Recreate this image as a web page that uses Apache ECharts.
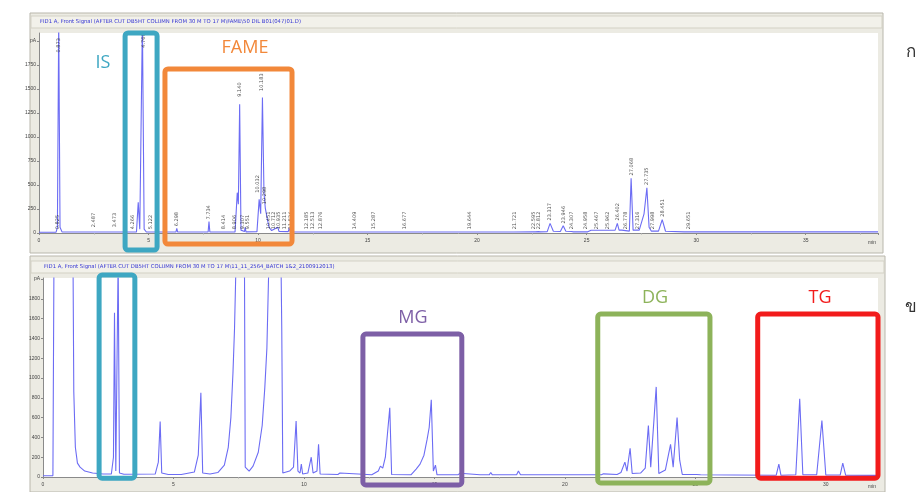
<!DOCTYPE html>
<html>
<head>
<meta charset="utf-8">
<script src="https://cdn.jsdelivr.net/npm/echarts@6/dist/echarts.min.js"></script>
<style>html,body{margin:0;padding:0;background:#fff}#c{width:920px;height:492px}</style>
</head>
<body>
<div id="c"></div>
<script>
// ---- Data ----
// top chromatogram (FAME sample): [time min, signal pA]
var topTrace = [
  [0,8],[0.78,9],[0.84,60],[0.9,2200],[0.96,60],[1.05,12],[2.48,10],[2.5,18],[2.52,10],
  [3.46,10],[3.48,16],[3.5,10],[4.45,10],[4.53,320],[4.6,40],[4.66,60],[4.72,2200],[4.8,40],[4.9,10],
  [5.1,10],[5.12,20],[5.14,10],[6.25,10],[6.29,48],[6.33,10],[7.72,10],[7.76,118],[7.8,10],
  [8.4,10],[8.42,22],[8.44,10],[8.95,12],[9.05,420],[9.1,300],[9.16,1340],[9.22,30],[9.3,12],
  [9.38,15],[9.41,60],[9.45,12],[9.95,14],[10.05,350],[10.12,200],[10.2,1410],[10.27,420],
  [10.33,260],[10.42,150],[10.5,60],[10.62,25],[10.9,60],[10.96,15],[11.38,14],[11.42,50],[11.47,12],
  [12.2,10],[12.22,18],[12.25,10],[21.68,10],[21.72,22],[21.76,10],[22.55,12],[22.6,30],[22.65,12],
  [22.8,14],[22.85,32],[22.9,12],[23.2,14],[23.33,100],[23.48,18],[23.8,16],[23.93,75],[24.05,18],
  [24.3,16],[24.34,24],[24.4,12],[24.9,12],[24.96,30],[25.05,12],[25.2,28],[26.3,30],[26.4,100],
  [26.48,30],[26.6,30],[26.65,12],[26.95,20],[27.03,570],[27.12,30],[27.4,30],[27.62,200],
  [27.75,470],[27.85,60],[27.95,20],[28.28,20],[28.45,140],[28.6,18],[29.45,12],[29.5,26],
  [29.55,12],[38.3,12]
];
// bottom chromatogram (biodiesel sample): [time min, signal pA]
var bottomTrace = [
  [0,12],[0.38,14],[0.42,2200],[1.15,2200],[1.18,860],[1.24,300],[1.32,140],[1.42,100],
  [1.6,60],[1.9,40],[2.3,30],[2.62,30],[2.7,200],[2.74,1660],[2.79,60],[2.84,80],[2.88,2200],
  [2.93,40],[3.1,28],[4.3,30],[4.42,150],[4.49,560],[4.55,40],[4.8,25],[5.3,25],[5.8,50],
  [5.95,220],[6.05,850],[6.12,40],[6.4,30],[6.7,45],[6.95,120],[7.1,300],[7.2,600],[7.28,1050],
  [7.34,1500],[7.4,2200],[7.72,2200],[7.75,100],[7.9,60],[8.05,110],[8.25,250],[8.4,520],
  [8.5,900],[8.58,1300],[8.66,2200],[9.12,2200],[9.15,1500],[9.19,40],[9.45,60],[9.6,100],
  [9.7,565],[9.77,60],[9.85,40],[9.9,130],[9.95,30],[10.15,40],[10.28,200],[10.35,40],
  [10.5,60],[10.56,330],[10.62,30],[11.3,25],[11.38,40],[11.45,22],[12.6,22],[12.85,60],
  [12.93,110],[13.02,90],[13.12,200],[13.29,700],[13.36,25],[14.1,22],[14.3,80],[14.45,130],
  [14.6,220],[14.72,380],[14.8,500],[14.88,780],[14.96,60],[15.04,120],[15.1,22],[15.9,22],
  [15.98,38],[16.05,22],[16.75,22],[16.82,42],[16.9,22],[17.1,22],[17.16,45],[17.22,22],
  [17.8,22],[17.86,35],[17.92,22],[18.15,22],[18.22,60],[18.3,22],[20.55,22],[20.62,35],
  [20.7,22],[21.4,22],[21.48,32],[21.55,22],[22.0,25],[22.15,45],[22.3,150],[22.38,60],
  [22.5,290],[22.58,35],[22.9,40],[23.08,90],[23.2,520],[23.29,100],[23.36,120],[23.5,910],
  [23.6,35],[23.85,70],[24.05,330],[24.15,100],[24.3,600],[24.4,170],[24.5,25],[25.05,25],
  [25.12,35],[25.2,22],[26.5,20],[28.1,18],[28.2,130],[28.28,18],[28.85,22],[29.0,790],
  [29.12,22],[29.65,22],[29.85,570],[30.0,20],[30.55,20],[30.65,140],[30.76,18],[32,16]
];
// retention-time labels printed on the top trace: [time, anchor pA, text]
var topPeakLabels = [
  [0.9,1880,'0.873'],[0.86,40,'0.825'],[2.49,60,'2.487'],[3.47,60,'3.473'],[4.27,40,'4.266'],
  [4.77,1930,'4.766'],[5.12,40,'5.122'],[6.29,70,'6.298'],[7.73,140,'7.734'],[8.41,40,'8.414'],
  [8.92,40,'8.906'],[9.14,1420,'9.140'],[9.3,40,'9.307'],[9.55,40,'9.551'],[10.0,420,'10.032'],
  [10.18,1480,'10.183'],[10.32,300,'10.298'],[10.47,40,'10.451'],[10.7,40,'10.712'],
  [10.92,40,'10.935'],[11.2,40,'11.211'],[11.5,40,'11.524'],[12.2,40,'12.185'],[12.5,40,'12.513'],
  [12.85,40,'12.876'],[14.41,40,'14.409'],[15.29,40,'15.287'],[16.68,40,'16.677'],
  [19.64,40,'19.644'],[21.72,40,'21.721'],[22.6,40,'22.595'],[22.82,40,'22.812'],
  [23.32,130,'23.317'],[23.95,100,'23.946'],[24.31,40,'24.307'],[24.96,40,'24.958'],
  [25.47,40,'25.467'],[25.96,40,'25.962'],[26.4,130,'26.402'],[26.78,40,'26.778'],
  [27.07,600,'27.068'],[27.32,40,'27.316'],[27.74,500,'27.735'],[28.0,40,'27.998'],
  [28.45,170,'28.451'],[29.65,40,'29.651']
];
var topYTicks = [0,250,500,750,1000,1250,1500,1750,2000];
var bottomYTicks = [0,200,400,600,800,1000,1200,1400,1600,1800,2000];
var topHeader = 'FID1 A, Front Signal (AFTER CUT DB5HT COLUMN FROM 30 M TO 17 M\\FAME\\50 DIL B01(047)01.D)';
var bottomHeader = 'FID1 A, Front Signal (AFTER CUT DB5HT COLUMN FROM 30 M TO 17 M\\11_11_2564_BATCH 1&2_2100912013)';
// highlighted regions: [grid index, t start, t end, pA top, pA bottom, colour]
var boxes = [
  [0, 3.93, 5.39, 2083, -177, '#3ea7c2'],
  [0, 5.75, 11.55, 1708, -115, '#f2883a'],
  [1, 2.15, 3.52, 2040, -12, '#3ea7c2'],
  [1, 12.26, 16.05, 1444, -80, '#7d5fa6'],
  [1, 21.26, 25.56, 1646, -60, '#8db35a'],
  [1, 27.39, 32.0, 1646, -12, '#f21b1b']
];
var boxTitles = [
  ['IS', 103, 63, '#3ea7c2'], ['FAME', 245, 48, '#f2883a'], ['MG', 413, 318, '#7d5fa6'],
  ['DG', 655, 298, '#8db35a'], ['TG', 820, 298, '#f21b1b']
];
var sideTags = [['ก', 911, 52], ['ข', 911, 307]];

// ---- Chart ----
var chart = echarts.init(document.getElementById('c'), null, {renderer: 'canvas'});
var lineColor = '#6c6cf4';
var axisGray = '#8a8a8a';
function xAxisDef(gi, max) {
  return {
    type: 'value', gridIndex: gi, min: 0, max: max, interval: 5,
    axisLine: {show: true, onZero: false, lineStyle: {color: axisGray, width: 1}},
    axisTick: {show: true, length: 2, lineStyle: {color: axisGray}},
    minorTick: {show: true, splitNumber: 2, length: 1.5, lineStyle: {color: '#aaa'}},
    axisLabel: {fontSize: 5, color: '#444', margin: 5, showMaxLabel: false},
    splitLine: {show: false},
    name: 'min', nameLocation: 'end', nameGap: -10,
    nameTextStyle: {fontSize: 5, color: '#444', verticalAlign: 'top', padding: [7, 0, 0, 0]}
  };
}
function yAxisDef(gi, max, interval, topVal) {
  return {
    type: 'value', gridIndex: gi, min: 0, max: max, interval: interval,
    axisLine: {show: true, lineStyle: {color: axisGray, width: 1}},
    axisTick: {show: true, length: 2, lineStyle: {color: axisGray}},
    axisLabel: {fontSize: 5, color: '#444', margin: 3, showMaxLabel: false,
      formatter: function (v) { return v === topVal ? 'pA' : String(v); }},
    splitLine: {show: false}
  };
}

var graphics = [
  {type: 'rect', shape: {x: 30, y: 13, width: 853, height: 240}, style: {fill: '#ecebe3', stroke: '#b9b7ac', lineWidth: 1}, z: -10},
  {type: 'rect', shape: {x: 31, y: 16, width: 851, height: 12}, style: {fill: '#f2f1ea', stroke: '#d3d1c5', lineWidth: 1}, z: -9},
  {type: 'text', x: 40, y: 22, style: {text: topHeader, fontSize: 5.3, fill: '#3434d4', verticalAlign: 'middle', fontFamily: 'DejaVu Sans'}, z: -8},
  {type: 'rect', shape: {x: 30, y: 256, width: 855, height: 236}, style: {fill: '#ecebe3', stroke: '#b9b7ac', lineWidth: 1}, z: -10},
  {type: 'rect', shape: {x: 31, y: 261, width: 853, height: 12}, style: {fill: '#f2f1ea', stroke: '#d3d1c5', lineWidth: 1}, z: -9},
  {type: 'text', x: 44, y: 267, style: {text: bottomHeader, fontSize: 5.3, fill: '#3434d4', verticalAlign: 'middle', fontFamily: 'DejaVu Sans'}, z: -8}
];
boxTitles.forEach(function (b) {
  graphics.push({type: 'text', x: b[1], y: b[2], z: 30,
    style: {text: b[0], fontSize: 18, fill: b[3], align: 'center', verticalAlign: 'middle', fontFamily: 'Open Sans'}});
});
sideTags.forEach(function (s) {
  graphics.push({type: 'text', x: s[1], y: s[2], z: 30,
    style: {text: s[0], fontSize: 17, fill: '#333', align: 'center', verticalAlign: 'middle', fontFamily: 'Noto Sans, DejaVu Sans, sans-serif'}});
});

var option = {
  animation: false,
  backgroundColor: '#ffffff',
  grid: [
    {left: 39, right: 42, top: 33, bottom: 259, show: true, backgroundColor: '#ffffff', borderWidth: 0},
    {left: 43, right: 42, top: 278, bottom: 15, show: true, backgroundColor: '#ffffff', borderWidth: 0}
  ],
  xAxis: [xAxisDef(0, 38.3), xAxisDef(1, 32)],
  yAxis: [yAxisDef(0, 2083, 250, 2000), yAxisDef(1, 2010, 200, 2000)],
  series: [
    {type: 'line', xAxisIndex: 0, yAxisIndex: 0, data: topTrace, showSymbol: false, clip: true,
      lineStyle: {color: lineColor, width: 1.1}, z: 5},
    {type: 'line', xAxisIndex: 1, yAxisIndex: 1, data: bottomTrace, showSymbol: false, clip: true,
      lineStyle: {color: lineColor, width: 1.1}, z: 5},
    {type: 'scatter', xAxisIndex: 0, yAxisIndex: 0, symbolSize: 0.1, silent: true, z: 6,
      data: topPeakLabels.map(function (p) { return {value: [p[0], p[1]], name: p[2]}; }),
      label: {show: true, position: 'inside', rotate: 90, align: 'left', verticalAlign: 'middle',
        formatter: function (p) { return p.name; }, fontSize: 5, color: '#222', fontFamily: 'DejaVu Sans'}}
  ],
  graphic: graphics
};
chart.setOption(option);

// frames for highlighted regions, placed through the axes
var boxGraphics = boxes.map(function (b) {
  var p1 = chart.convertToPixel({gridIndex: b[0]}, [b[1], b[3]]);
  var p2 = chart.convertToPixel({gridIndex: b[0]}, [b[2], b[4]]);
  return {type: 'rect', z: 20,
    shape: {x: p1[0], y: p1[1], width: p2[0] - p1[0], height: p2[1] - p1[1], r: 3},
    style: {fill: 'none', stroke: b[5], lineWidth: 5}};
});
chart.setOption({graphic: graphics.concat(boxGraphics)});
</script>
</body>
</html>
